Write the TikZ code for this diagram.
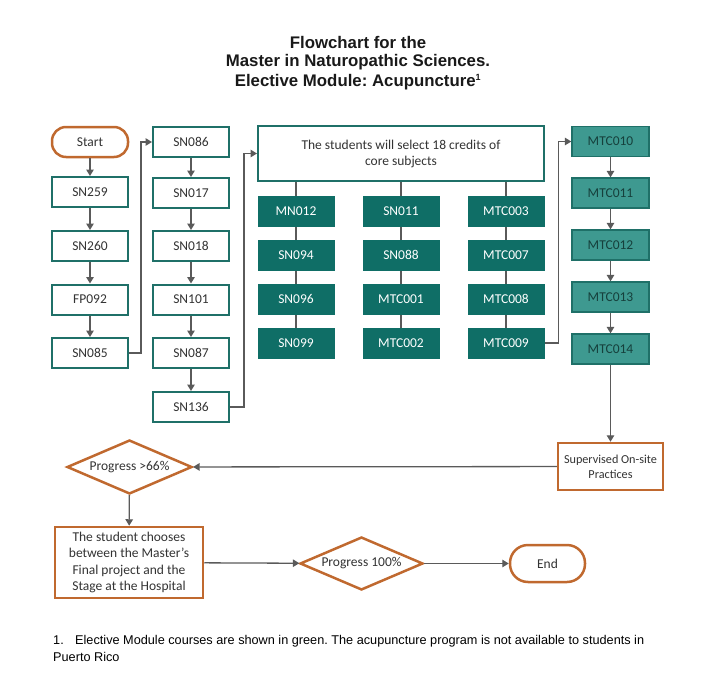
\documentclass[tikz,border=0pt]{standalone}
\usepackage{fontspec}
\setmainfont{Carlito}
\newfontfamily\titlefont{Liberation Sans}
\usetikzlibrary{shapes.geometric,arrows.meta}
\definecolor{tealline}{RGB}{31,112,104}
\definecolor{gridfill}{RGB}{15,110,102}
\definecolor{rightfill}{RGB}{62,153,144}
\definecolor{righttext}{RGB}{22,64,60}
\definecolor{orangeline}{RGB}{192,105,47}
\definecolor{conn}{RGB}{90,90,90}
\frenchspacing
\begin{document}
\begin{tikzpicture}[x=1pt,y=-1pt,
  every node/.style={font=\fontsize{13.5}{16}\selectfont, inner sep=0pt, align=center},
  ttl/.style={font=\titlefont\bfseries\fontsize{16.8}{19}\selectfont, text=black!90},
  obox/.style={draw=tealline, line width=2pt, fill=white, minimum width=76pt, minimum height=30pt, text=black!80},
  gbox/.style={draw=gridfill, line width=1pt, fill=gridfill, minimum width=76pt, minimum height=30pt, text=white},
  rbox/.style={draw=tealline, line width=1.3pt, fill=rightfill, minimum width=77pt, minimum height=30pt, text=righttext},
  term/.style={draw=orangeline, line width=2.5pt, fill=white, rounded corners=14pt, minimum height=30pt, text=black!80},
  obig/.style={draw=orangeline, line width=2.5pt, fill=white, text=black!80},
  dia/.style={diamond, aspect=2.3, draw=orangeline, line width=2.5pt, fill=white, text=black!80},
  arr/.style={draw=conn, line width=1.3pt, -{Triangle[width=7.5pt,length=6.5pt]}},
  ln/.style={draw=conn, line width=1.3pt}]
\path[use as bounding box] (0,0) rectangle (716,694);

% title
\node[ttl] (t1) at (358,42) {Flowchart for the};
\node[ttl] (t2) at (358,62) {Master in Naturopathic Sciences.};
\node[ttl] (t3) at (358,82) {Elective Module: Acupuncture\textsuperscript{\fontsize{9}{9}\selectfont 1}};

% column 1
\node[term, minimum width=76pt] (start) at (90,142) {Start};
\node[obox] (sn259) at (90,192) {SN259};
\node[obox] (sn260) at (90,246) {SN260};
\node[obox] (fp092) at (90,299.5) {FP092};
\node[obox] (sn085) at (90,353) {SN085};

% column 2
\node[obox] (sn086) at (191,142) {SN086};
\node[obox] (sn017) at (191,193) {SN017};
\node[obox] (sn018) at (191,246) {SN018};
\node[obox] (sn101) at (191,299.5) {SN101};
\node[obox] (sn087) at (191,353) {SN087};
\node[obox] (sn136) at (191,407) {SN136};

% big box
\node[obox, minimum width=286pt, minimum height=55pt] (core) at (401,153.5) {The students will select 18 credits of\\core subjects};

% grid
\node[gbox] (mn012) at (296,211) {MN012};
\node[gbox] (sn094) at (296,255) {SN094};
\node[gbox] (sn096) at (296,299) {SN096};
\node[gbox] (sn099) at (296,343) {SN099};
\node[gbox] (sn011) at (401,211) {SN011};
\node[gbox] (sn088) at (401,255) {SN088};
\node[gbox] (mtc001) at (401,299) {MTC001};
\node[gbox] (mtc002) at (401,343) {MTC002};
\node[gbox] (mtc003) at (506,211) {MTC003};
\node[gbox] (mtc007) at (506,255) {MTC007};
\node[gbox] (mtc008) at (506,299) {MTC008};
\node[gbox] (mtc009) at (506,343) {MTC009};

% right column
\node[rbox] (mtc010) at (610.5,141.5) {MTC010};
\node[rbox] (mtc011) at (610.5,193) {MTC011};
\node[rbox] (mtc012) at (610.5,245) {MTC012};
\node[rbox] (mtc013) at (610.5,297) {MTC013};
\node[rbox] (mtc014) at (610.5,349) {MTC014};

% lower part
\node[obig, minimum width=105pt, minimum height=47pt, font=\fontsize{12.2}{15}\selectfont] (sup) at (610.5,466.5) {Supervised On-site\\Practices};
\node[dia, minimum width=125pt, minimum height=54pt] (p66) at (129.5,467) {Progress >66\%};
\node[obig, minimum width=148pt, minimum height=71pt, font=\fontsize{13.5}{16.3}\selectfont] (choose) at (129,562.5) {The student chooses\\between the Master's\\Final project and the\\Stage at the Hospital};
\node[dia, minimum width=123pt, minimum height=53pt] (p100) at (361.5,563.5) {Progress 100\%};
\node[term, minimum width=75pt, minimum height=37pt, rounded corners=18pt] (end) at (547.5,563.5) {End};

% footnote
\node[anchor=west, align=left, font=\titlefont\fontsize{12.7}{17}\selectfont] (fn) at (53,648.5) {1.\hspace{0.9em}Elective Module courses are shown in green. The acupuncture program is not available to students in\\Puerto Rico};

% connectors column 1
\draw[arr] (start) -- (sn259);
\draw[arr] (sn259) -- (sn260);
\draw[arr] (sn260) -- (fp092);
\draw[arr] (fp092) -- (sn085);
\draw[arr] (sn085.east) -- ++(12,0) |- (sn086.west);
% column 2
\draw[arr] (sn086) -- (sn017);
\draw[arr] (sn017) -- (sn018);
\draw[arr] (sn018) -- (sn101);
\draw[arr] (sn101) -- (sn087);
\draw[arr] (sn087) -- (sn136);
\draw[arr] (sn136.east) -- ++(14,0) |- (core.west);
% grid lines
\draw[ln] (core.south -| mn012) -- (mn012);
\draw[ln] (mn012) -- (sn094);
\draw[ln] (sn094) -- (sn096);
\draw[ln] (sn096) -- (sn099);
\draw[ln] (core.south -| sn011) -- (sn011);
\draw[ln] (sn011) -- (sn088);
\draw[ln] (sn088) -- (mtc001);
\draw[ln] (mtc001) -- (mtc002);
\draw[ln] (core.south -| mtc003) -- (mtc003);
\draw[ln] (mtc003) -- (mtc007);
\draw[ln] (mtc007) -- (mtc008);
\draw[ln] (mtc008) -- (mtc009);
\draw[arr] (mtc009.east) -- ++(14,0) |- (mtc010.west);
% right column
\draw[arr] (mtc010) -- (mtc011);
\draw[arr] (mtc011) -- (mtc012);
\draw[arr] (mtc012) -- (mtc013);
\draw[arr] (mtc013) -- (mtc014);
\draw[arr] (mtc014) -- (sup);
% lower
\draw[arr] (sup) -- (p66);
\draw[arr] (p66) -- (choose);
\draw[arr] (choose) -- (p100);
\draw[arr] (p100) -- (end);
\end{tikzpicture}
\end{document}
